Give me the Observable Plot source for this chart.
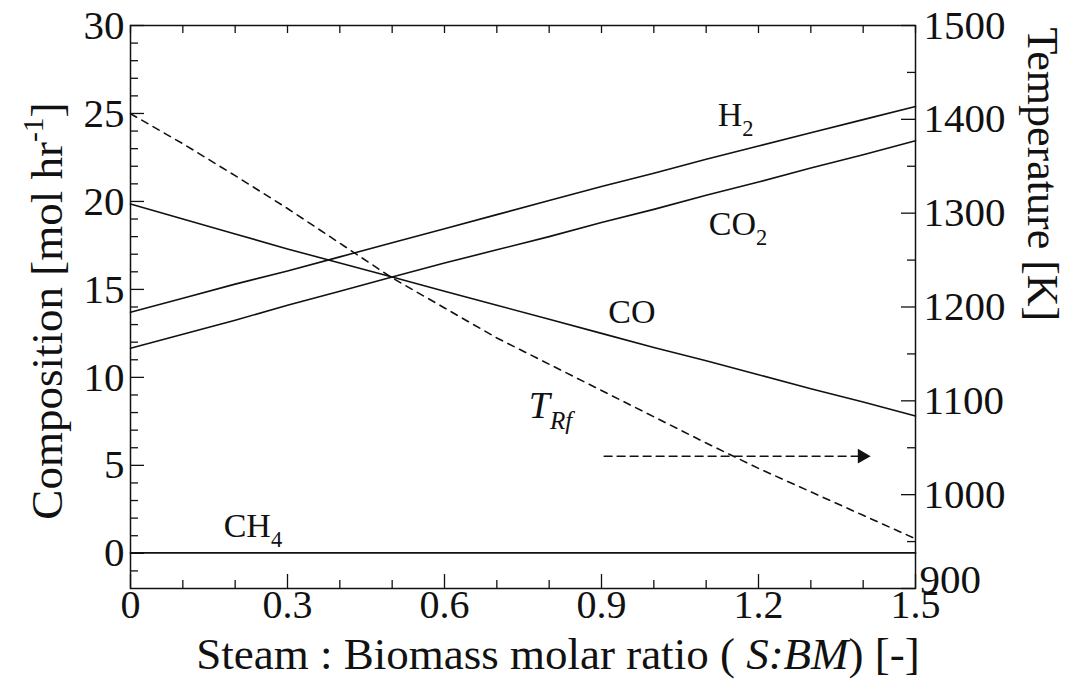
<!DOCTYPE html>
<html>
<head>
<meta charset="utf-8">
<script src="https://cdn.jsdelivr.net/npm/d3@7"></script>
<script src="https://cdn.jsdelivr.net/npm/@observablehq/plot@0.6"></script>
<style>
  html, body { margin: 0; padding: 0; background: #fff; }
  #chart svg { display: block; }
</style>
</head>
<body>
<div id="chart"></div>
<script>
// ---- data ----
const ratio = [0, 0.1, 0.2, 0.3, 0.4, 0.5, 0.6, 0.7, 0.8, 0.9, 1.0, 1.1, 1.2, 1.3, 1.4, 1.5];
const h2  = [13.7, 14.5, 15.3, 16.05, 16.85, 17.65, 18.45, 19.25, 20.05, 20.85, 21.6, 22.4, 23.15, 23.9, 24.65, 25.4];
const co2 = [11.65, 12.45, 13.25, 14.1, 14.9, 15.7, 16.5, 17.25, 18.0, 18.8, 19.55, 20.35, 21.1, 21.9, 22.65, 23.45];
const co  = [19.85, 19.0, 18.15, 17.3, 16.5, 15.7, 14.9, 14.1, 13.3, 12.5, 11.7, 10.95, 10.15, 9.35, 8.6, 7.8];
const ch4 = [0.02, 0.02, 0.02, 0.02, 0.02, 0.02, 0.02, 0.02, 0.02, 0.02, 0.02, 0.02, 0.02, 0.02, 0.02, 0.02];
const tRf = [1406, 1374, 1340, 1305, 1268, 1231, 1199, 1167, 1139, 1111, 1083, 1055, 1028, 1003, 978, 953];

const xTicks = [0, 0.3, 0.6, 0.9, 1.2, 1.5];
const xTickLabels = ["0", "0.3", "0.6", "0.9", "1.2", "1.5"];
const xMinor = [0.1, 0.2, 0.4, 0.5, 0.7, 0.8, 1.0, 1.1, 1.3, 1.4];
const yTicks = [0, 5, 10, 15, 20, 25, 30];
const yMinor = [-1, 1, 2, 3, 4, 6, 7, 8, 9, 11, 12, 13, 14, 16, 17, 18, 19, 21, 22, 23, 24, 26, 27, 28, 29];
const tTicks = [900, 1000, 1100, 1200, 1300, 1400, 1500];
const tMinor = [950, 1050, 1150, 1250, 1350, 1450];

// series labels (markup: _{sub}, ^{sup}, *italic*)
const seriesLabels = ["H_{2}", "CO_{2}", "CO", "*T*_{*Rf*}", "CH_{4}"];
const labelX = [1.122, 1.105, 0.913, 0.761, 0.178];
const labelY = [24.26, 18.07, 13.07, 7.67, 0.91];
const labelSize = [34, 34, 34, 38, 34];

// arrow pointing to the temperature axis
const arrowX = [0.905, 1.39];
const arrowT = 1041;
const arrowTipX = 1.398;

const yLabel = "Composition [mol hr^{-1}]";
const xLabel = "Steam : Biomass molar ratio ( *S:BM*) [-]";
const tLabel = "Temperature [K]";

// ---- helpers ----
const Y0 = -2, Y1 = 30, T0 = 900, T1 = 1500;
const tToY = t => Y0 + (t - T0) * (Y1 - Y0) / (T1 - T0);
const yToT = y => T0 + (y - Y0) * (T1 - T0) / (Y1 - Y0);

const W = 1071, H = 684;
const mL = 130, mR = 156, mT = 25, mB = 96;
const iw = W - mL - mR, ih = H - mT - mB;

const rows = ratio.map((x, i) => ({x, h2: h2[i], co2: co2[i], co: co[i], ch4: ch4[i], t: tToY(tRf[i])}));
const labels = seriesLabels.map((s, i) => ({s, x: labelX[i], y: labelY[i], fs: labelSize[i]}));
const arrowRows = arrowX.map(x => ({x, y: tToY(arrowT)}));

const major = 14, minor = 8, tickW = 1.3;
const fmtT = d => String(Math.round(yToT(d)));

const chart = Plot.plot({
  width: W, height: H,
  marginLeft: mL, marginRight: mR, marginTop: mT, marginBottom: mB,
  style: {fontFamily: "'Liberation Serif', 'Times New Roman', serif", fontSize: "41px", color: "#111", background: "#fff"},
  x: {domain: [0, 1.5]},
  y: {domain: [Y0, Y1]},
  marks: [
    // ticks (inward)
    Plot.tickY(yTicks, {y: d => d, insetRight: iw - major, strokeWidth: tickW}),
    Plot.tickY(yMinor, {y: d => d, insetRight: iw - minor, strokeWidth: tickW}),
    Plot.tickY(tTicks.map(tToY), {y: d => d, insetLeft: iw - major, strokeWidth: tickW}),
    Plot.tickY(tMinor.map(tToY), {y: d => d, insetLeft: iw - minor, strokeWidth: tickW}),
    Plot.tickX(xTicks, {x: d => d, insetTop: ih - major, strokeWidth: tickW}),
    Plot.tickX(xMinor, {x: d => d, insetTop: ih - minor, strokeWidth: tickW}),
    Plot.tickX(xTicks, {x: d => d, insetBottom: ih - minor, strokeWidth: tickW}),
    Plot.tickX(xMinor, {x: d => d, insetBottom: ih - minor, strokeWidth: tickW}),
    // axes labels
    Plot.axisY(yTicks, {anchor: "left", tickSize: 0, tickPadding: 6, label: null}),
    Plot.axisY(tTicks.slice(1).map(tToY), {anchor: "right", tickSize: 0, tickPadding: 8, label: null, tickFormat: fmtT}),
    Plot.axisY(tTicks.slice(0, 1).map(tToY), {anchor: "right", tickSize: 0, tickPadding: 4, label: null, dy: -9, tickFormat: fmtT}),
    Plot.axisX(xTicks, {anchor: "bottom", tickSize: 0, tickPadding: 1, label: null, fontSize: 40,
      tickFormat: d => xTickLabels[xTicks.indexOf(d)]}),
    // series
    Plot.line(rows, {x: "x", y: "h2", stroke: "#111", strokeWidth: 1.6}),
    Plot.line(rows, {x: "x", y: "co2", stroke: "#111", strokeWidth: 1.6}),
    Plot.line(rows, {x: "x", y: "co", stroke: "#111", strokeWidth: 1.6}),
    Plot.line(rows, {x: "x", y: "ch4", stroke: "#111", strokeWidth: 1.8}),
    Plot.line(rows, {x: "x", y: "t", stroke: "#111", strokeWidth: 1.6, strokeDasharray: "7,6"}),
    // arrow
    Plot.line(arrowRows, {x: "x", y: "y", stroke: "#111", strokeWidth: 1.4, strokeDasharray: "8,5"}),
    Plot.dot([{x: arrowTipX, y: tToY(arrowT)}], {x: "x", y: "y", symbol: "triangle", rotate: 90, r: 5.5, fill: "#111", stroke: "none"}),
    // series labels
    ...labels.map(l => Plot.text([l], {x: "x", y: "y", text: "s", textAnchor: "start", lineAnchor: "bottom", fontSize: l.fs, fill: "#111"})),
    // axis titles
    Plot.text([yLabel], {text: d => d, frameAnchor: "left", rotate: -90, dx: -83, dy: 4, lineAnchor: "middle", textAnchor: "middle", fontSize: 45, fill: "#111"}),
    Plot.text([tLabel], {text: d => d, frameAnchor: "top-right", rotate: 90, dx: 127, dy: 2, lineAnchor: "middle", textAnchor: "start", fontSize: 44, fill: "#111"}),
    Plot.text([xLabel], {text: d => d, frameAnchor: "bottom", dx: 35, dy: 80, lineAnchor: "bottom", textAnchor: "middle", fontSize: 45, fill: "#111"}),
    Plot.frame({stroke: "#111", strokeWidth: 1.5})
  ]
});

document.getElementById("chart").appendChild(chart);

// rich text: subscripts, superscripts, italics as tspans
function richify(el, markup) {
  const fs = parseFloat(getComputedStyle(el).fontSize) || 40;
  const sel = d3.select(el);
  sel.text(null);
  let shift = 0;
  const parts = markup.split(/(_\{[^}]*\}|\^\{[^}]*\})/).filter(s => s !== "");
  for (const p of parts) {
    let mode = null, body = p;
    if (p.startsWith("_{")) { mode = "sub"; body = p.slice(2, -1); }
    else if (p.startsWith("^{")) { mode = "sup"; body = p.slice(2, -1); }
    const target = mode === "sub" ? 0.28 : mode === "sup" ? -0.42 : 0;
    const dyPx = (target - shift) * fs;
    const pieces = body.split(/(\*[^*]*\*)/).filter(s => s !== "");
    pieces.forEach((q, i) => {
      const it = q.startsWith("*") && q.endsWith("*") && q.length > 1;
      const t = it ? q.slice(1, -1) : q;
      const ts = sel.append("tspan").text(t);
      if (it) ts.attr("font-style", "italic");
      if (mode) ts.attr("font-size", (fs * 0.66) + "px");
      if (i === 0 && dyPx !== 0) ts.attr("dy", dyPx);
    });
    shift = target;
  }
}
d3.select(chart).selectAll("text").each(function () {
  const s = this.textContent;
  if (/_\{|\^\{|\*/.test(s)) richify(this, s);
});
</script>
</body>
</html>
